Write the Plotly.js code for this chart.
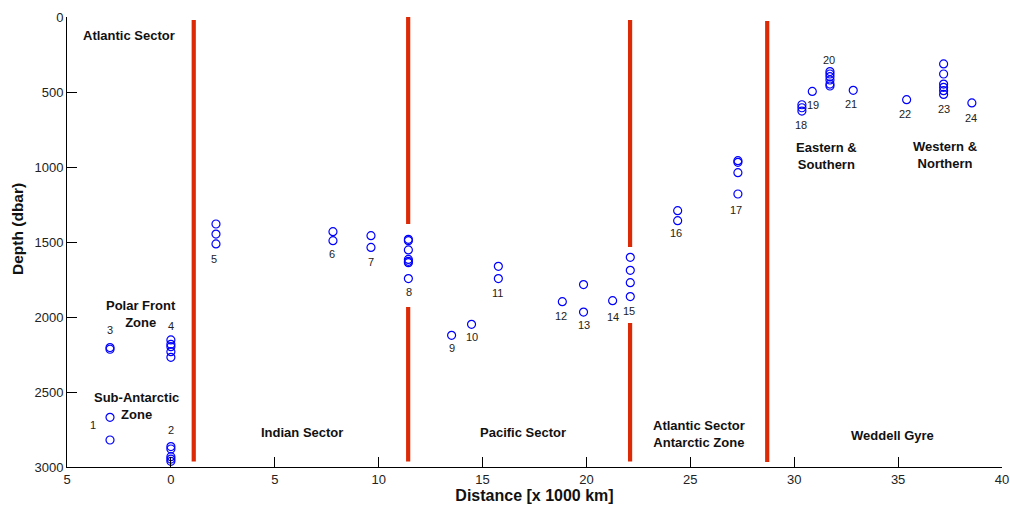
<!DOCTYPE html>
<html>
<head>
<meta charset="utf-8">
<script src="https://cdn.plot.ly/plotly-3.0.1.min.js"></script>
<style>html,body{margin:0;padding:0;background:#fff;}#chart{width:1010px;height:507px;}</style>
</head>
<body>
<div id="chart"></div>
<script>
// Station numbers, distance (x 1000 km) and depths (dbar) of the samples
const stationIds = [1,2,3,4,5,6,7,8,9,10,11,12,13,14,15,16,17,18,19,20,21,22,23,24];
const stationDist = [-2.93,0.0,-2.93,0.0,2.17,7.80,9.63,11.43,13.51,14.47,15.76,18.84,19.86,21.26,22.11,24.39,27.29,30.37,30.87,31.72,32.84,35.41,37.19,38.55];
const stationDepths = [
  [2669,2820],
  [2864,2880,2931,2947,2962],
  [2204,2215],
  [2153,2182,2198,2231,2269],
  [1380,1447,1513],
  [1431,1491],
  [1458,1536],
  [1482,1491,1553,1616,1629,1638,1744],
  [2122],
  [2049],
  [1662,1744],
  [1898],
  [1784,1967],
  [1891],
  [1602,1689,1771,1864],
  [1291,1358],
  [958,969,1038,1180],
  [585,605,627],
  [496],
  [364,380,398,420,447,460],
  [489],
  [551],
  [313,380,447,469,491,516],
  [573]
];
// Boundaries between sectors (x 1000 km)
const boundaryDist = [1.1, 11.42, 22.1, 28.7];
const xTickVals = [-5,0,5,10,15,20,25,30,35,40];
const xTickText = ['5','0','5','10','15','20','25','30','35','40'];
const yTickVals = [0,500,1000,1500,2000,2500,3000];
const regionNames = ['Atlantic Sector','Polar Front<br>Zone','Sub-Antarctic<br>Zone','Indian Sector','Pacific Sector','Atlantic Sector<br>Antarctic Zone','Weddell Gyre','Eastern &<br>Southern','Western &<br>Northern'];

// label placement (layout only)
const stationLabelPos = [
  [-3.73,2720],[0,2753],[-2.93,2087],[0,2060],[2.09,1613],[7.77,1580],[9.61,1631],[11.44,1836],
  [13.54,2209],[14.47,2131],[15.73,1842],[18.77,1991],[19.86,2053],[21.26,1998],[22.06,1958],
  [24.31,1442],[27.19,1287],[30.32,720],[30.92,587],[31.68,287],[32.71,580],[35.33,647],[37.19,611],[38.50,673]
];
const regionPos = [[-2.02,124],[-1.45,1980],[-1.65,2595],[6.31,2767],[16.94,2771],[25.40,2780],[34.71,2791],[31.55,927],[37.24,918]];
const boundarySegments = [
  [[20,2964]],
  [[0,1380],[1933,2964]],
  [[20,1533],[2040,2964]],
  [[27,2966]]
];

const px = [], py = [];
stationDepths.forEach((ds, i) => ds.forEach(d => { px.push(stationDist[i]); py.push(d); }));

const lx = [], ly = [];
boundaryDist.forEach((b, i) => {
  boundarySegments[i].forEach(seg => { lx.push(b, b, null); ly.push(seg[0], seg[1], null); });
});

const traces = [
  {x: lx, y: ly, mode: 'lines', type: 'scatter', line: {color: '#dc2a06', width: 4.2}, hoverinfo: 'skip', connectgaps: false},
  {x: px, y: py, mode: 'markers', type: 'scatter', marker: {symbol: 'circle-open', size: 8, color: '#0000ff', line: {width: 1.2, color: '#0000ff'}}}
];

const annotations = [];
stationIds.forEach((id, i) => annotations.push({
  x: stationLabelPos[i][0], y: stationLabelPos[i][1], xref: 'x', yref: 'y', text: String(id), showarrow: false,
  font: {family: 'Liberation Sans, Arial, sans-serif', size: 11, color: '#222'}
}));
regionNames.forEach((n, i) => annotations.push({
  x: regionPos[i][0], y: regionPos[i][1], xref: 'x', yref: 'y', text: '<b>' + n + '</b>', showarrow: false,
  font: {family: 'Liberation Sans, Arial, sans-serif', size: 13, color: '#111'}
}));
// y axis title placed as in the reference (slightly above the axis centre)
annotations.push({
  xref: 'paper', yref: 'paper', x: -0.0524, y: 0.529, text: '<b>Depth (dbar)</b>', textangle: -90,
  showarrow: false, xanchor: 'center', yanchor: 'middle',
  font: {family: 'Liberation Sans, Arial, sans-serif', size: 15.5, color: '#111'}
});

const layout = {
  width: 1010, height: 507,
  margin: {l: 67, r: 8, t: 17, b: 40, pad: 0},
  paper_bgcolor: '#fff', plot_bgcolor: '#fff',
  showlegend: false,
  font: {family: 'Liberation Sans, Arial, sans-serif', size: 13, color: '#222'},
  xaxis: {
    range: [-5, 40], tickvals: xTickVals, ticktext: xTickText,
    ticks: 'inside', ticklen: 10, tickcolor: '#000', tickwidth: 1,
    showline: true, linecolor: '#000', linewidth: 1, showgrid: false, zeroline: false,
    tickfont: {size: 13, color: '#222'},
    title: {text: '<b>Distance [x 1000 km]</b>', font: {size: 16, color: '#111'}, standoff: 4}
  },
  yaxis: {
    range: [3000, 0], tickvals: yTickVals,
    ticks: 'inside', ticklen: 10, tickcolor: '#000', tickwidth: 1,
    showline: true, linecolor: '#000', linewidth: 1, showgrid: false, zeroline: false,
    tickfont: {size: 13, color: '#222'}
  },
  annotations: annotations
};

Plotly.newPlot('chart', traces, layout, {staticPlot: true, displayModeBar: false});
</script>
</body>
</html>
